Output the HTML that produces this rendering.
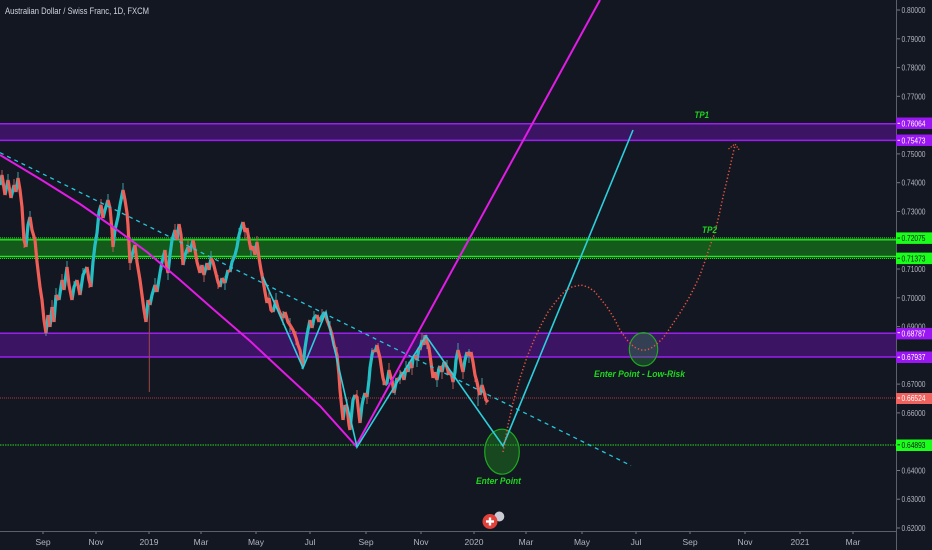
<!DOCTYPE html>
<html><head><meta charset="utf-8"><style>
html,body{margin:0;padding:0;background:#131722;width:932px;height:550px;overflow:hidden}
svg{display:block}
text{font-family:"Liberation Sans",sans-serif}
</style></head><body>
<svg width="932" height="550" viewBox="0 0 932 550" xmlns="http://www.w3.org/2000/svg">
<defs><clipPath id="pane"><rect x="0" y="0" width="932" height="531"/></clipPath></defs>
<rect width="932" height="550" fill="#131722"/>

<!-- bands -->
<rect x="0" y="123.5" width="896" height="17" fill="#3b1463"/>
<line x1="0" y1="123.8" x2="896" y2="123.8" stroke="#9a1ef0" stroke-width="1.5"/>
<line x1="0" y1="140.4" x2="896" y2="140.4" stroke="#9a1ef0" stroke-width="1.5"/>

<rect x="0" y="238" width="896" height="20.5" fill="#135a1b"/>
<line x1="0" y1="237.9" x2="896" y2="237.9" stroke="#2bd02b" stroke-width="1" stroke-dasharray="1 1"/>
<line x1="0" y1="239.8" x2="896" y2="239.8" stroke="#22e622" stroke-width="1.3"/>
<line x1="0" y1="256.4" x2="896" y2="256.4" stroke="#22e622" stroke-width="1.3"/>
<line x1="0" y1="258.5" x2="896" y2="258.5" stroke="#2bd02b" stroke-width="1" stroke-dasharray="1 1"/>

<rect x="0" y="333" width="896" height="24" fill="#3b1463"/>
<line x1="0" y1="333.2" x2="896" y2="333.2" stroke="#9a1ef0" stroke-width="1.5"/>
<line x1="0" y1="357" x2="896" y2="357" stroke="#9a1ef0" stroke-width="1.5"/>

<line x1="0" y1="398" x2="896" y2="398" stroke="#b03a3a" stroke-width="1" stroke-dasharray="1 1"/>
<line x1="0" y1="445" x2="896" y2="445" stroke="#1f9a1f" stroke-width="1.5" stroke-dasharray="1.5 1"/>

<!-- wicks -->
<line x1="149.3" y1="300" x2="149.3" y2="392" stroke="#a04848" stroke-width="1"/>
<line x1="478" y1="388" x2="478" y2="406" stroke="#5f8f95" stroke-width="1"/>
<path fill="none" stroke="#b85a56" stroke-width="1" d="M2 170V182 M14 179V191 M24 232V248 M40 280V295 M52 300V315 M62 274V288 M74 281V293 M89 273V288 M101 199V212 M113 240V252 M130 256V270 M144 302V318 M162 255V270 M175 224V238 M188 240V254 M204 268V282 M218 275V289 M232 256V269 M245 225V239 M257 236V249 M269 291V305 M283 311V325 M296 331V345 M307 328V342 M322 309V323 M337 347V363 M347 399V415 M357 390V404 M367 390V404 M378 343V357 M389 363V377 M400 370V384 M412 361V375 M422 333V347 M432 363V377 M442 365V379 M453 375V389 M463 365V379 M475 368V382 M486 393V405"/>
<path fill="none" stroke="#3f9ea3" stroke-width="1" d="M8 174V186 M18 172V186 M30 211V225 M46 326V336 M56 288V302 M67 261V275 M83 268V282 M95 238V252 M108 194V207 M123 183V197 M137 255V268 M155 278V292 M168 266V280 M181 228V242 M195 243V257 M211 251V265 M225 276V290 M239 228V242 M251 243V257 M263 273V287 M276 293V307 M290 318V332 M302 355V369 M314 311V325 M330 321V335 M342 402V418 M352 402V418 M362 398V412 M372 348V362 M383 371V385 M395 381V395 M406 361V375 M417 353V367 M427 335V349 M437 373V387 M447 360V374 M458 343V357 M469 349V363 M482 378V392"/>

<!-- candles: up -->
<path fill="none" stroke="#24bfc4" stroke-width="3.2" stroke-linejoin="miter" d="M0 185 L2 175 M5 195 L8 180 M11 198 L14 185 M16 192 L18 178 M26 247 L28 225 L30 217 M46 333 L48 315 M50 327 L52 307 M54 322 L56 295 M59 300 L62 280 M64 290 L67 267 M72 300 L74 287 L77 280 M80 295 L83 275 L87 267 M91 287 L93 262 L95 245 L97 233 L99 212 L101 205 M103 218 L105 210 L108 200 M113 247 L115 230 L118 217 L120 205 L122 195 L123 190 M130 263 L132 255 L135 245 M146 322 L148 300 M150 305 L152 295 L155 285 M157 292 L160 273 L162 262 L165 250 M168 273 L170 255 L172 240 L175 230 M177 240 L179 224 M183 265 L185 255 L188 247 M190 252 L193 240 M200 273 L202 265 M204 275 L207 263 M209 270 L211 258 M220 287 L222 278 M225 283 L228 270 M230 272 L232 262 L235 255 L237 247 L239 235 L241 228 L243 222 M245 232 L247 228 M251 250 L253 246 M255 255 L257 242 M267 303 L269 298 M273 312 L276 300 M283 318 L285 312 M303 366 L305 348 L307 335 L310 320 M312 328 L314 318 L317 315 M319 322 L322 316 L325 312 M343 420 L345 405 M350 430 L352 410 L353 400 L355 395 M360 423 L362 405 L363 400 L365 393 M367 397 L369 380 L370 368 L372 355 L373 350 M375 352 L377 345 M385 385 L387 383 L389 370 M394 393 L395 388 L397 378 M399 380 L400 377 L402 372 M404 380 L406 368 M408 372 L410 362 M412 368 L413 358 L415 355 M417 360 L419 348 M420 350 L422 340 M424 345 L425 335 M433 378 L435 372 M437 380 L439 368 L440 366 M442 372 L444 362 M449 375 L451 372 M453 382 L455 372 L456 360 L458 350 M463 372 L465 360 L467 352 M469 356 L471 352 M480 395 L482 385"/>
<!-- candles: down -->
<path fill="none" stroke="#ef5f57" stroke-width="3.2" stroke-linejoin="miter" d="M2 175 L5 195 M8 180 L11 198 M14 185 L16 192 M18 178 L20 190 L22 207 L24 240 L26 247 M30 217 L32 230 L35 240 L37 262 L40 287 L42 300 L44 320 L46 333 M48 315 L50 327 M52 307 L54 322 M56 295 L59 300 M62 280 L64 290 M67 267 L69 285 L72 300 M77 280 L80 295 M87 267 L89 280 L91 287 M101 205 L103 218 M108 200 L110 208 L112 230 L113 247 M123 190 L125 200 L127 213 L128 225 L130 263 M135 245 L137 262 L140 280 L142 295 L144 310 L146 322 M148 300 L150 305 M155 285 L157 292 M165 250 L166 262 L168 273 M175 230 L177 240 M179 224 L181 235 L183 265 M188 247 L190 252 M193 240 L195 250 L197 262 L200 273 M202 265 L204 275 M207 263 L209 270 M211 258 L213 262 L215 270 L218 282 L220 287 M222 278 L225 283 M228 270 L230 272 M243 222 L245 232 M247 228 L249 240 L251 250 M253 246 L255 255 M257 242 L259 258 L261 270 L263 280 L265 292 L267 303 M269 298 L271 310 L273 312 M276 300 L278 308 L280 313 L283 318 M285 312 L288 322 L290 325 L293 330 L296 338 L298 345 L300 350 L302 362 L303 366 M310 320 L312 328 M317 315 L319 322 M325 312 L327 320 L330 328 L332 335 L334 345 L337 355 L339 375 L340 390 L342 410 L343 420 M345 405 L347 407 L349 425 L350 430 M355 395 L357 397 L359 415 L360 423 M365 393 L367 397 M373 350 L375 352 M377 345 L378 350 L380 358 L382 372 L383 378 L385 385 M389 370 L391 378 L392 380 L394 393 M397 378 L399 380 M402 372 L404 380 M406 368 L408 372 M410 362 L412 368 M415 355 L417 360 M419 348 L420 350 M422 340 L424 345 M425 335 L427 342 L429 348 L430 355 L432 370 L433 378 M435 372 L437 380 M440 366 L442 372 M444 362 L447 367 L449 375 M451 372 L453 382 M458 350 L460 358 L462 368 L463 372 M467 352 L469 356 M471 352 L473 362 L475 375 L477 382 L479 392 L480 395 M482 385 L484 392 L486 400 L488 402"/>

<!-- dashed trend line -->
<line x1="0" y1="152.7" x2="631" y2="465.6" stroke="#26c6da" stroke-width="1.3" stroke-dasharray="4 4"/>

<!-- magenta -->
<polyline fill="none" stroke="#e21be6" stroke-width="2" points="0,155 40,179 80,204 113,227 147,252 180,280 213,309 250,341 280,369 320,406 356,446 600,0"/>

<!-- ellipses -->
<ellipse cx="502" cy="451.7" rx="17.3" ry="22.5" fill="rgba(30,140,30,0.42)" stroke="#1faa1f" stroke-width="1.2"/>
<ellipse cx="643.5" cy="349.3" rx="14.2" ry="16.7" fill="rgba(40,130,60,0.4)" stroke="#1faa1f" stroke-width="1.2"/>

<!-- cyan zigzag -->
<polyline fill="none" stroke="#2bd0dc" stroke-width="1.6" points="263,277 303,368 326,312 357,447 426,336 503,446 633,130"/>

<!-- projected dotted path -->
<polyline fill="none" stroke="#e5533f" stroke-width="1.5" stroke-dasharray="1.3 2.2" points="503,452 508,425 513,403 520,378 527,357 534,340 540,327 548,312 557,300 565,291 572,287 581,285 588,287 594,291 600,298 607,307 614,318 620,330 627,340 634,347 641,350 647,350 653,347 658,343 663,338 668,331 674,322 680,313 686,303 690,296 695,286 700,275 704,264 707,255 710,246 714,235 717,224 720,211 723,197 727,180 730,167 732,158 735,145"/>
<polyline fill="none" stroke="#e5533f" stroke-width="1.3" stroke-dasharray="1.3 1.5" points="728.5,149 735,144 740,151"/>

<!-- green labels -->
<g font-weight="bold" font-style="italic" font-size="9.5" fill="#1ed81e">
<text x="476" y="484" textLength="45" lengthAdjust="spacingAndGlyphs">Enter Point</text>
<text x="594" y="377" textLength="91" lengthAdjust="spacingAndGlyphs">Enter Point - Low-Risk</text>
<text x="694.5" y="118" textLength="14.5" lengthAdjust="spacingAndGlyphs">TP1</text>
<text x="702" y="233" textLength="15" lengthAdjust="spacingAndGlyphs">TP2</text>
</g>

<!-- icon -->
<circle cx="499.3" cy="516.5" r="5" fill="#c9cad3"/>
<circle cx="490" cy="521.5" r="7.5" fill="#e0413a"/>
<rect x="488.8" y="517.5" width="2.4" height="8" fill="#fff"/>
<rect x="486" y="520.3" width="8" height="2.4" fill="#fff"/>

<!-- title -->
<text x="5" y="14" font-size="9.5" fill="#d1d4dc" textLength="144" lengthAdjust="spacingAndGlyphs">Australian Dollar / Swiss Franc, 1D, FXCM</text>

<!-- axes -->
<rect x="896.5" y="0" width="35.5" height="550" fill="#131722"/>
<rect x="0" y="531.5" width="896" height="18.5" fill="#131722"/>
<line x1="896.5" y1="0" x2="896.5" y2="550" stroke="#5d606b" stroke-width="1"/>
<line x1="0" y1="531.5" x2="896" y2="531.5" stroke="#5d606b" stroke-width="1"/>

<g clip-path="url(#pane)" font-size="8.5" fill="#b2b5be">
<g stroke="#787b86" stroke-width="1">
<line x1="897" y1="10" x2="900" y2="10"/><line x1="897" y1="38.8" x2="900" y2="38.8"/><line x1="897" y1="67.6" x2="900" y2="67.6"/><line x1="897" y1="96.3" x2="900" y2="96.3"/><line x1="897" y1="153.9" x2="900" y2="153.9"/><line x1="897" y1="182.7" x2="900" y2="182.7"/><line x1="897" y1="211.5" x2="900" y2="211.5"/><line x1="897" y1="269" x2="900" y2="269"/><line x1="897" y1="297.8" x2="900" y2="297.8"/><line x1="897" y1="326.6" x2="900" y2="326.6"/><line x1="897" y1="384.1" x2="900" y2="384.1"/><line x1="897" y1="412.9" x2="900" y2="412.9"/><line x1="897" y1="470.5" x2="900" y2="470.5"/><line x1="897" y1="499.2" x2="900" y2="499.2"/><line x1="897" y1="528" x2="900" y2="528"/>
</g>
<text x="901.5" y="13" textLength="24" lengthAdjust="spacingAndGlyphs">0.80000</text>
<text x="901.5" y="41.8" textLength="24" lengthAdjust="spacingAndGlyphs">0.79000</text>
<text x="901.5" y="70.6" textLength="24" lengthAdjust="spacingAndGlyphs">0.78000</text>
<text x="901.5" y="99.3" textLength="24" lengthAdjust="spacingAndGlyphs">0.77000</text>
<text x="901.5" y="156.9" textLength="24" lengthAdjust="spacingAndGlyphs">0.75000</text>
<text x="901.5" y="185.7" textLength="24" lengthAdjust="spacingAndGlyphs">0.74000</text>
<text x="901.5" y="214.5" textLength="24" lengthAdjust="spacingAndGlyphs">0.73000</text>
<text x="901.5" y="272" textLength="24" lengthAdjust="spacingAndGlyphs">0.71000</text>
<text x="901.5" y="300.8" textLength="24" lengthAdjust="spacingAndGlyphs">0.70000</text>
<text x="901.5" y="329.6" textLength="24" lengthAdjust="spacingAndGlyphs">0.69000</text>
<text x="901.5" y="387.1" textLength="24" lengthAdjust="spacingAndGlyphs">0.67000</text>
<text x="901.5" y="415.9" textLength="24" lengthAdjust="spacingAndGlyphs">0.66000</text>
<text x="901.5" y="473.5" textLength="24" lengthAdjust="spacingAndGlyphs">0.64000</text>
<text x="901.5" y="502.2" textLength="24" lengthAdjust="spacingAndGlyphs">0.63000</text>
<text x="901.5" y="531" textLength="24" lengthAdjust="spacingAndGlyphs">0.62000</text>
</g>

<!-- price label boxes -->
<g font-size="8.5">
<rect x="896" y="117.5" width="36" height="11.5" fill="#9a16f2"/>
<line x1="897.5" y1="123.3" x2="900" y2="123.3" stroke="#fff"/>
<text x="901.5" y="126.3" fill="#fff" textLength="24" lengthAdjust="spacingAndGlyphs">0.76064</text>
<rect x="896" y="134.5" width="36" height="11.5" fill="#9a16f2"/>
<line x1="897.5" y1="140.3" x2="900" y2="140.3" stroke="#fff"/>
<text x="901.5" y="143.3" fill="#fff" textLength="24" lengthAdjust="spacingAndGlyphs">0.75473</text>
<rect x="896" y="232.4" width="36" height="11.5" fill="#19ff19"/>
<line x1="897.5" y1="238.1" x2="900" y2="238.1" stroke="#131722"/>
<text x="901.5" y="241.1" fill="#131722" textLength="24" lengthAdjust="spacingAndGlyphs">0.72075</text>
<rect x="896" y="252.6" width="36" height="11.5" fill="#19ff19"/>
<line x1="897.5" y1="258.3" x2="900" y2="258.3" stroke="#131722"/>
<text x="901.5" y="261.3" fill="#131722" textLength="24" lengthAdjust="spacingAndGlyphs">0.71373</text>
<rect x="896" y="327.9" width="36" height="11.5" fill="#9a16f2"/>
<line x1="897.5" y1="332.7" x2="900" y2="332.7" stroke="#fff"/>
<text x="901.5" y="336.7" fill="#fff" textLength="24" lengthAdjust="spacingAndGlyphs">0.68787</text>
<rect x="896" y="351.5" width="36" height="11.5" fill="#9a16f2"/>
<line x1="897.5" y1="357.2" x2="900" y2="357.2" stroke="#fff"/>
<text x="901.5" y="360.2" fill="#fff" textLength="24" lengthAdjust="spacingAndGlyphs">0.67937</text>
<rect x="896" y="393" width="36" height="11" fill="#f0625d"/>
<line x1="897.5" y1="398" x2="900" y2="398" stroke="#fff"/>
<text x="901.5" y="401" fill="#fff" textLength="24" lengthAdjust="spacingAndGlyphs">0.66524</text>
<rect x="896" y="439.5" width="36" height="11.5" fill="#19ff19"/>
<line x1="897.5" y1="444.8" x2="900" y2="444.8" stroke="#131722"/>
<text x="901.5" y="447.8" fill="#131722" textLength="24" lengthAdjust="spacingAndGlyphs">0.64893</text>
</g>

<!-- time axis -->
<g stroke="#787b86" stroke-width="1">
<line x1="43" y1="532" x2="43" y2="534"/><line x1="96" y1="532" x2="96" y2="534"/><line x1="149" y1="532" x2="149" y2="534"/><line x1="201" y1="532" x2="201" y2="534"/><line x1="256" y1="532" x2="256" y2="534"/><line x1="310" y1="532" x2="310" y2="534"/><line x1="366" y1="532" x2="366" y2="534"/><line x1="421" y1="532" x2="421" y2="534"/><line x1="474" y1="532" x2="474" y2="534"/><line x1="526" y1="532" x2="526" y2="534"/><line x1="582" y1="532" x2="582" y2="534"/><line x1="636" y1="532" x2="636" y2="534"/><line x1="690" y1="532" x2="690" y2="534"/><line x1="745" y1="532" x2="745" y2="534"/><line x1="800" y1="532" x2="800" y2="534"/><line x1="853" y1="532" x2="853" y2="534"/>
</g>
<g font-size="8.5" fill="#b2b5be" text-anchor="middle">
<text x="43" y="545">Sep</text>
<text x="96" y="545">Nov</text>
<text x="149" y="545">2019</text>
<text x="201" y="545">Mar</text>
<text x="256" y="545">May</text>
<text x="310" y="545">Jul</text>
<text x="366" y="545">Sep</text>
<text x="421" y="545">Nov</text>
<text x="474" y="545">2020</text>
<text x="526" y="545">Mar</text>
<text x="582" y="545">May</text>
<text x="636" y="545">Jul</text>
<text x="690" y="545">Sep</text>
<text x="745" y="545">Nov</text>
<text x="800" y="545">2021</text>
<text x="853" y="545">Mar</text>
</g>
</svg>
</body></html>
